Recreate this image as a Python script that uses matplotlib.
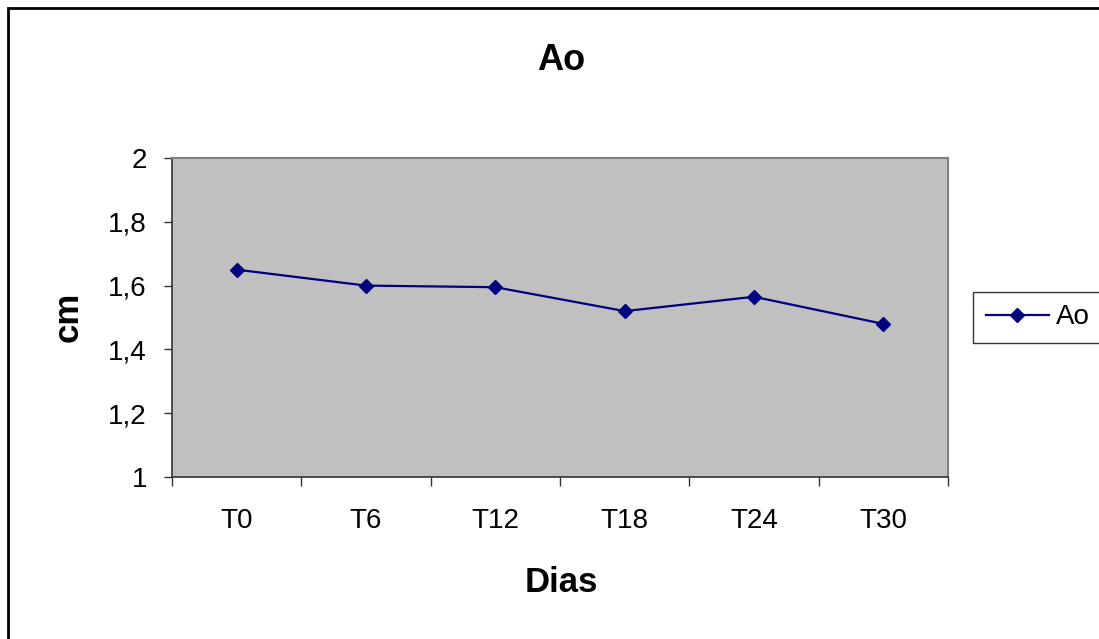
import matplotlib.pyplot as plt
from matplotlib.patches import Rectangle

plt.rcParams['font.family'] = ['Liberation Sans', 'DejaVu Sans']

dias = ['T0', 'T6', 'T12', 'T18', 'T24', 'T30']
ao = [1.65, 1.60, 1.595, 1.52, 1.565, 1.48]
y_ticks = [1, 1.2, 1.4, 1.6, 1.8, 2]
y_labels = ['1', '1,2', '1,4', '1,6', '1,8', '2']

W, H = 1099, 639
fig = plt.figure(figsize=(W / 100, H / 100), dpi=100)

# chart frame running off the right and bottom edges
fig.patches.append(Rectangle((8 / W, -0.1), 1.2, 1 - 8 / H + 0.1,
                             transform=fig.transFigure, fill=False,
                             edgecolor='black', linewidth=2))

ax = fig.add_axes([172 / W, 1 - 477 / H, 776 / W, 319 / H])
ax.set_facecolor('#c0c0c0')

x = list(range(len(dias)))
ax.plot(x, ao, color='#000080', linewidth=1.6, marker='D', markersize=7.5,
        label='Ao')

ax.set_xlim(-0.5, len(dias) - 0.5)
ax.set_ylim(1, 2)

# category boundaries get the tick marks, centres get the labels
ax.set_xticks([i - 0.5 for i in range(len(dias) + 1)])
ax.set_xticklabels([])
ax.set_xticks(x, minor=True)
ax.set_xticklabels(dias, minor=True)
ax.tick_params(axis='x', which='major', direction='out', length=6.5,
               width=1, color='#333333')
ax.tick_params(axis='x', which='minor', length=0, pad=22.5, labelsize=20)

ax.set_yticks(y_ticks)
ax.set_yticklabels(y_labels)
ax.tick_params(axis='y', direction='out', length=6, width=1, color='#333333',
               pad=12, labelsize=20)

for side in ['top', 'right']:
    ax.spines[side].set_color('#808080')
    ax.spines[side].set_linewidth(1.5)
for side in ['left', 'bottom']:
    ax.spines[side].set_color('#333333')
    ax.spines[side].set_linewidth(1.2)

fig.text(561 / W, 1 - 60 / H, 'Ao', ha='center', va='center',
         fontsize=26, fontweight='bold')
fig.text(561 / W, 1 - 583 / H, 'Dias', ha='center', va='center',
         fontsize=25, fontweight='bold')
fig.text(68 / W, 1 - 317 / H, 'cm', ha='center', va='center',
         fontsize=25, fontweight='bold', rotation=90)

leg = fig.legend(loc='upper left', bbox_to_anchor=(973 / W, 1 - 292 / H),
                 fontsize=20, frameon=True, fancybox=False, handlelength=2.3,
                 borderpad=0.45, handletextpad=0.25, borderaxespad=0)
leg.get_frame().set_edgecolor('black')
leg.get_frame().set_linewidth(1)

fig.savefig('out.png', dpi=100)
